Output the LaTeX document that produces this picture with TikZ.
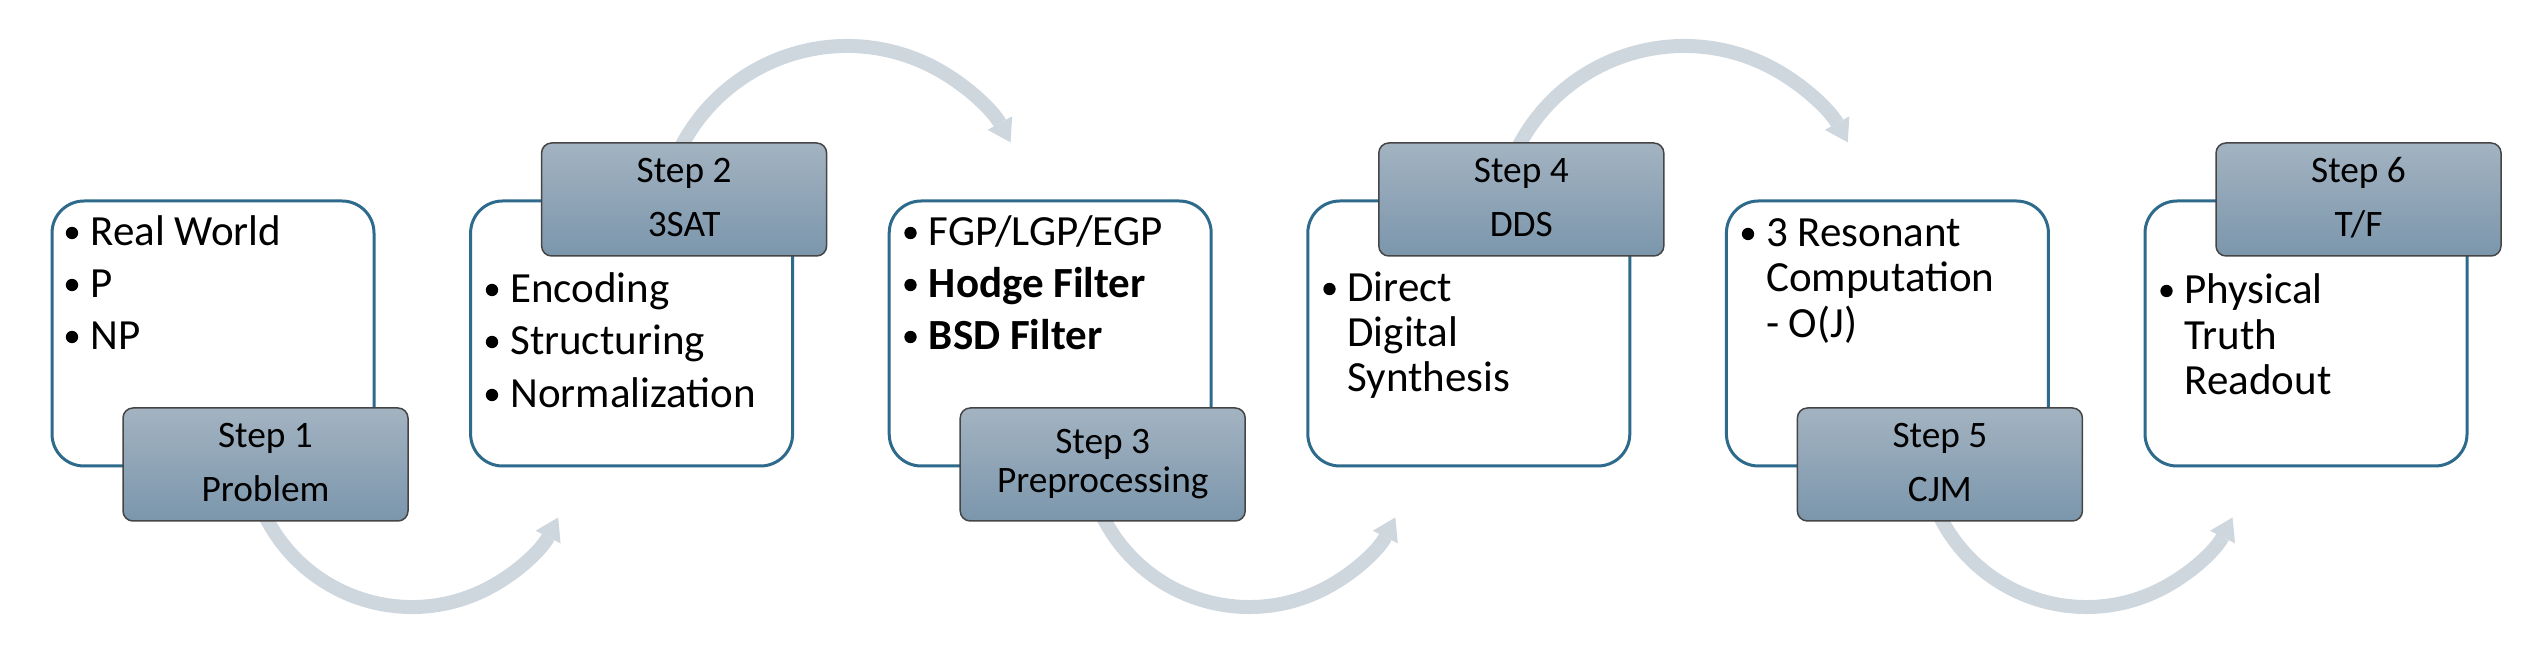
\documentclass[tikz,border=0pt]{standalone}
\usepackage{fontspec}
\setmainfont{Carlito}
\usetikzlibrary{arrows.meta,calc}
\definecolor{wborder}{HTML}{2D6A8C}
\definecolor{dtop}{HTML}{A3B3C1}
\definecolor{dbot}{HTML}{7B96AC}
\definecolor{dborder}{HTML}{454545}
\definecolor{arrowc}{HTML}{CED6DE}
\begin{document}
\begin{tikzpicture}[x=0.3pt,y=0.3pt,
 wbox/.style={draw=wborder, line width=0.9pt, fill=white, rounded corners=9.6pt, minimum width=96.6pt, minimum height=79.5pt, inner sep=0pt},
 dbox/.style={draw=dborder, line width=0.45pt, top color=dtop, bottom color=dbot, rounded corners=3pt, minimum width=85.5pt, minimum height=33.9pt, inner sep=0pt},
 btxt/.style={anchor=base west, inner sep=0pt, font=\fontsize{12.9pt}{15pt}\selectfont},
 bdot/.style={circle, fill=black, inner sep=0pt, minimum size=3.7pt},
 stxt/.style={anchor=base, inner sep=0pt, font=\fontsize{11.2pt}{13pt}\selectfont},
 flow/.style={draw=arrowc, line width=4.2pt, -{Triangle[width=8.4pt,length=6.6pt,line width=0pt]}}
]
\useasboundingbox (0,0) rectangle (2548,-667);

% curved arrows (behind boxes)
\foreach \k/\L in {1/52,3/889.2,5/1726.4}{
  \coordinate (bc\k) at (\L+360,-443);
  \coordinate (bs\k) at ($(bc\k)+(205:164)$);
  \draw[flow] (bs\k) arc[start angle=205, end angle=333, radius=164];
}
\foreach \k/\L in {2/470.6,4/1307.8}{
  \coordinate (tc\k) at (\L+376.4,-233);
  \coordinate (ts\k) at ($(tc\k)+(152:187)$);
  \draw[flow] (ts\k) arc[start angle=152, end angle=29, radius=187];
}

% white content boxes
\foreach \i/\L in {1/52,2/470.6,3/889.2,4/1307.8,5/1726.4,6/2145}{
  \node[wbox] (w\i) at (\L+161,-333.5) {};
}
% step boxes
\foreach \i/\L/\T in {1/52/408,2/470.6/143,3/889.2/408,4/1307.8/143,5/1726.4/408,6/2145/143}{
  \node[dbox] (s\i) at (\L+213.5,-\T-56.5) {};
}

% step labels
\node[stxt] (s1a) at (265.5,-448) {Step 1};
\node[stxt] (s1b) at (265.5,-502) {Problem};
\node[stxt] (s2a) at (684.1,-183) {Step 2};
\node[stxt] (s2b) at (684.1,-237) {3SAT};
\node[stxt] (s3a) at (1102.7,-454) {Step 3};
\node[stxt] (s3b) at (1102.7,-493) {Preprocessing};
\node[stxt] (s4a) at (1521.3,-183) {Step 4};
\node[stxt] (s4b) at (1521.3,-237) {DDS};
\node[stxt] (s5a) at (1939.9,-448) {Step 5};
\node[stxt] (s5b) at (1939.9,-502) {CJM};
\node[stxt] (s6a) at (2358.5,-183) {Step 6};
\node[stxt] (s6b) at (2358.5,-237) {T/F};

% box 1
\node[bdot] (d11) at (72,-233) {};  \node[btxt] (t11) at (90,-246) {Real World};
\node[bdot] (d12) at (72,-285) {};  \node[btxt] (t12) at (90,-298) {P};
\node[bdot] (d13) at (72,-337) {};  \node[btxt] (t13) at (90,-350) {NP};
% box 2
\node[bdot] (d21) at (492,-290) {};  \node[btxt] (t21) at (509.6,-303) {Encoding};
\node[bdot] (d22) at (492,-342) {};  \node[btxt] (t22) at (509.6,-355) {Structuring};
\node[bdot] (d23) at (492,-395) {};  \node[btxt] (t23) at (509.6,-408) {Normalization};
% box 3
\node[bdot] (d31) at (910.5,-233) {};  \node[btxt] (t31) at (928.2,-246) {FGP/LGP/EGP};
\node[bdot] (d32) at (910.5,-285) {};  \node[btxt] (t32) at (928.2,-298) {\bfseries Hodge Filter};
\node[bdot] (d33) at (910.5,-337) {};  \node[btxt] (t33) at (928.2,-350) {\bfseries BSD Filter};
% box 4
\node[bdot] (d41) at (1329.5,-289) {};  \node[btxt] (t41) at (1346.8,-302) {Direct};
\node[btxt] (t42) at (1346.8,-347) {Digital};
\node[btxt] (t43) at (1346.8,-392) {Synthesis};
% box 5
\node[bdot] (d51) at (1748,-234) {};  \node[btxt] (t51) at (1765.4,-247) {3 Resonant};
\node[btxt] (t52) at (1765.4,-292) {Computation};
\node[btxt] (t53) at (1765.4,-338) {- O(J)};
% box 6
\node[bdot] (d61) at (2166.5,-291) {};  \node[btxt] (t61) at (2184,-304) {Physical};
\node[btxt] (t62) at (2184,-350) {Truth};
\node[btxt] (t63) at (2184,-395) {Readout};
\end{tikzpicture}
\end{document}
